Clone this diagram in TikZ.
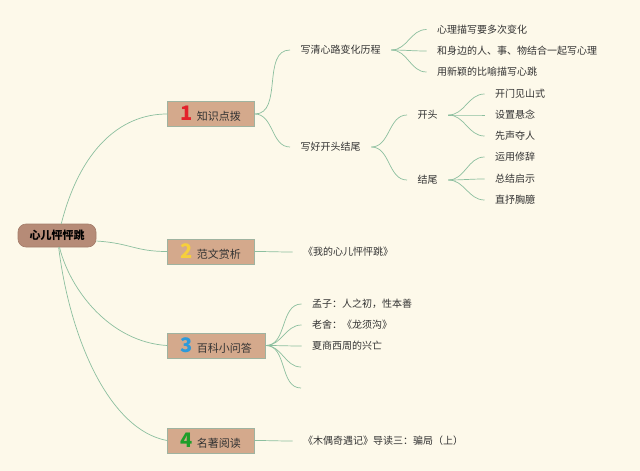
\documentclass[tikz,border=0pt]{standalone}
\usepackage{fontspec}
\newfontfamily\cjk{Noto Sans CJK SC}
\definecolor{bg}{HTML}{FDF9EA}
\definecolor{ln}{HTML}{8CBF9F}
\definecolor{boxfill}{HTML}{D4A98C}
\definecolor{boxline}{HTML}{9FB3A0}
\definecolor{rootfill}{HTML}{B68B77}
\definecolor{txt}{HTML}{333333}
\definecolor{numA}{HTML}{E3212B}
\definecolor{numB}{HTML}{F6CF3C}
\definecolor{numC}{HTML}{2E9ADA}
\definecolor{numD}{HTML}{1E9E2A}
\newcommand{\bignum}[2]{{\fontsize{20}{20}\selectfont\bfseries\color{#1}#2}\hspace{4pt}}
\begin{document}
\begin{tikzpicture}[x=1pt,y=-1pt,
  rootbox/.style={draw=rootfill!90!black, fill=rootfill, rounded corners=8pt, line width=0.6pt,
    minimum width=78pt, minimum height=23pt, inner xsep=0pt,
    font=\cjk\bfseries\fontsize{11}{11}\selectfont, text=black},
  branchbox/.style={draw=boxline, fill=boxfill, line width=0.8pt, anchor=west,
    minimum height=25pt, inner xsep=0pt, inner ysep=0pt,
    font=\cjk\fontsize{11}{11}\selectfont, text=txt},
  leaf/.style={anchor=west, inner xsep=10.5pt, inner ysep=2pt,
    font=\cjk\fontsize{10}{12}\selectfont, text=txt},
  conn/.style={draw=ln, line width=0.7pt},
  fan/.style={conn, out=0, in=180}
]
\fill[bg] (0,0) rectangle (640,471);
\useasboundingbox (0,0) rectangle (640,471);

% root
\node[rootbox] (root) at (57,235.5) {心儿怦怦跳};

% main branches
\node[branchbox, minimum width=87pt] (b1) at (167,114) {\bignum{numA}{1}知识点拨};
\node[branchbox, minimum width=87pt] (b2) at (167,251.5) {\bignum{numB}{2}范文赏析};
\node[branchbox, minimum width=98pt] (b3) at (167,345.5) {\bignum{numC}{3}百科小问答};
\node[branchbox, minimum width=87pt] (b4) at (167,440.5) {\bignum{numD}{4}名著阅读};

% root connectors
\draw[conn] (root.70) .. controls (80,150) and (120,114) .. (b1.west);
\draw[conn] (root.-8) .. controls (130,243) and (135,251.5) .. (b2.west);
\draw[conn] (root.-78) .. controls (70,290) and (110,342) .. (b3.west);
\draw[conn] (root.-82) .. controls (70,340) and (110,430) .. (b4.west);

% branch 1
\node[leaf] (a1) at (290,50) {写清心路变化历程};
\node[leaf] (a2) at (290,147) {写好开头结尾};
\draw[conn] (b1.east) to[fan] (a1.west);
\draw[conn] (b1.east) to[fan] (a2.west);

\node[leaf] (a11) at (426.5,29.5) {心理描写要多次变化};
\node[leaf] (a12) at (426.5,51) {和身边的人、事、物结合一起写心理};
\node[leaf] (a13) at (426.5,72) {用新颖的比喻描写心跳};
\draw[conn] (a1.east) to[fan] (a11.west);
\draw[conn] (a1.east) to[fan] (a12.west);
\draw[conn] (a1.east) to[fan] (a13.west);

\node[leaf] (k) at (407,115) {开头};
\node[leaf] (j) at (407,180) {结尾};
\draw[conn] (a2.east) to[fan] (k.west);
\draw[conn] (a2.east) to[fan] (j.west);

\node[leaf] (k1) at (484.5,94) {开门见山式};
\node[leaf] (k2) at (484.5,115) {设置悬念};
\node[leaf] (k3) at (484.5,136) {先声夺人};
\draw[conn] (k.east) to[fan] (k1.west);
\draw[conn] (k.east) to[fan] (k2.west);
\draw[conn] (k.east) to[fan] (k3.west);

\node[leaf] (j1) at (484.5,157) {运用修辞};
\node[leaf] (j2) at (484.5,179) {总结启示};
\node[leaf] (j3) at (484.5,200) {直抒胸臆};
\draw[conn] (j.east) to[fan] (j1.west);
\draw[conn] (j.east) to[fan] (j2.west);
\draw[conn] (j.east) to[fan] (j3.west);

% branch 2
\node[leaf] (c1) at (292.5,252) {《我的心儿怦怦跳》};
\draw[conn] (b2.east) to[fan] (c1.west);

% branch 3
\node[leaf] (d1) at (301.5,304) {孟子：人之初，性本善};
\node[leaf] (d2) at (301.5,325) {老舍：《龙须沟》};
\node[leaf] (d3) at (301.5,346) {夏商西周的兴亡};
\coordinate (d4) at (301,367);
\coordinate (d5) at (301,388);
\draw[conn] (b3.east) to[fan] (d1.west);
\draw[conn] (b3.east) to[fan] (d2.west);
\draw[conn] (b3.east) to[fan] (d3.west);
\draw[conn] (b3.east) to[fan] (d4);
\draw[conn] (b3.east) to[fan] (d5);

% branch 4
\node[leaf] (e1) at (292.5,441) {《木偶奇遇记》导读三：骗局（上）};
\draw[conn] (b4.east) to[fan] (e1.west);
\end{tikzpicture}
\end{document}
